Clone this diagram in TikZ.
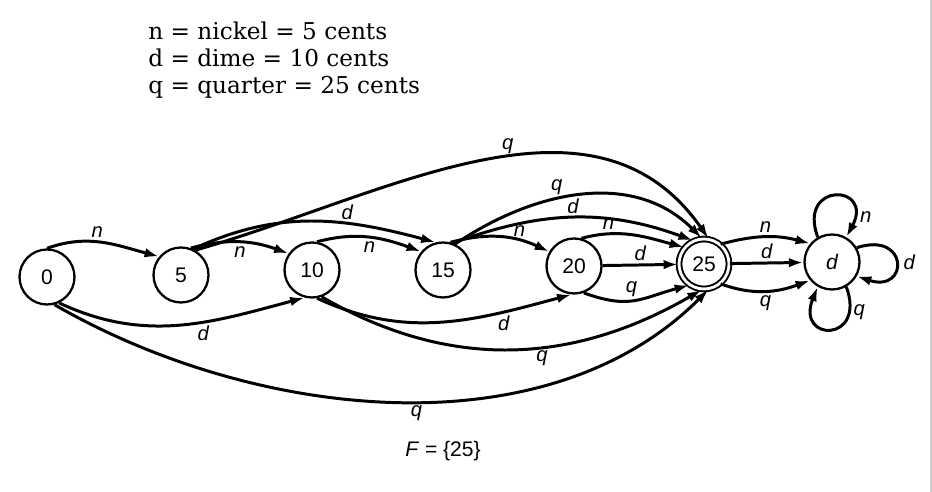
\documentclass[tikz,border=0pt]{standalone}
\usepackage{fontspec}
\setmainfont{DejaVu Serif}
\setsansfont{Liberation Sans}
\usetikzlibrary{arrows.meta}
\tikzset{
  state/.style={circle,draw,line width=1.3pt,minimum size=1.1cm,inner sep=0pt,font=\sffamily\fontsize{12}{14}\selectfont},
  final/.style={state,double,double distance=1.6pt,line width=1.1pt,minimum size=1.0cm},
  move/.style={-{Latex[length=2.9mm,width=1.9mm]},line width=1.7pt},
  lbl/.style={inner sep=1.5pt,font=\sffamily\itshape\fontsize{11.5}{13}\selectfont}
}

\begin{document}
\begin{tikzpicture}[x=0.02cm,y=0.02cm]
  \useasboundingbox (0,0) rectangle (932,492);
  \draw[draw=black!18,line width=0.6pt] (931,0) -- (931,492);

  \node[anchor=north west,inner sep=0pt,align=left,font=\fontsize{13.2}{15.3}\selectfont] (key) at (148,470)
    {n = nickel = 5 cents\\ d = dime = 10 cents\\ q = quarter = 25 cents};

  \node[state] (s0) at (47,215) {0};
  \node[state] (s5) at (181,217) {5};
  \node[state] (s10) at (312,222) {10};
  \node[state] (s15) at (443,222) {15};
  \node[state] (s20) at (574,226) {20};
  \node[final] (s25) at (704,228) {25};
  \node[state] (sd) at (832,230) {\itshape d};

  \node[font=\sffamily\fontsize{12}{14}\selectfont] (fset) at (443,41) {\textit{F} = \{25\}};

  \draw[move] (s0.90) to[out=20,in=165] node[lbl,pos=0.45,above] {n} (s5.140);
  \draw[move] (s0.-65) to[out=-25,in=195] node[lbl,pos=0.6,below] {d} (s10.-105);
  \draw[move] (s0.-75) to[out=-30,in=225,looseness=0.9] node[lbl,pos=0.53,below] {q} (s25.-80);
  \draw[move] (s5.70) to[out=15,in=160] node[lbl,pos=0.5,below] {n} (s10.145);
  \draw[move] (s5.65) to[out=25,in=165] node[lbl,pos=0.65,above] {d} (s15.105);
  \draw[move] (s5.60) to[out=16,in=125] node[lbl,pos=0.55,above] {q} (s25.80);
  \draw[move] (s10.80) to[out=15,in=160] node[lbl,pos=0.5,below] {n} (s15.140);
  \draw[move] (s10.-80) to[out=-25,in=195] node[lbl,pos=0.75,below] {d} (s20.-95);
  \draw[move] (s10.-70) to[out=-30,in=210] node[lbl,pos=0.58,below] {q} (s25.-95);
  \draw[move] (s15.75) to[out=15,in=155] node[lbl,pos=0.7,above] {n} (s20.150);
  \draw[move] (s15.70) to[out=20,in=160] node[lbl,pos=0.5,above] {d} (s25.115);
  \draw[move] (s15.65) to[out=34,in=135] node[lbl,pos=0.4,above] {q} (s25.95);
  \draw[move] (s20.75) to[out=15,in=165] node[lbl,pos=0.25,above] {n} (s25.140);
  \draw[move] (s20) -- node[lbl,above] {d} (s25);
  \draw[move] (s20.-70) to[out=-20,in=195,looseness=1.2] node[lbl,pos=0.45,above] {q} (s25.-125);
  \draw[move] (s25.50) to[out=15,in=165] node[lbl,above] {n} (sd.140);
  \draw[move] (s25) -- node[lbl,above] {d} (sd);
  \draw[move] (s25.-50) to[out=-20,in=200] node[lbl,below] {q} (sd.-140);
  \draw[move] (sd.120) to[out=110,in=62,min distance=1.2cm] node[lbl,pos=0.85,right=2pt] {n} (sd.60);
  \draw[move] (sd.30) to[out=18,in=-18,min distance=1.1cm] node[lbl,right=2pt] {d} (sd.-30);
  \draw[move] (sd.-60) to[out=-70,in=-112,min distance=1.2cm] node[lbl,pos=0.18,right] {q} (sd.-120);
\end{tikzpicture}
\end{document}
